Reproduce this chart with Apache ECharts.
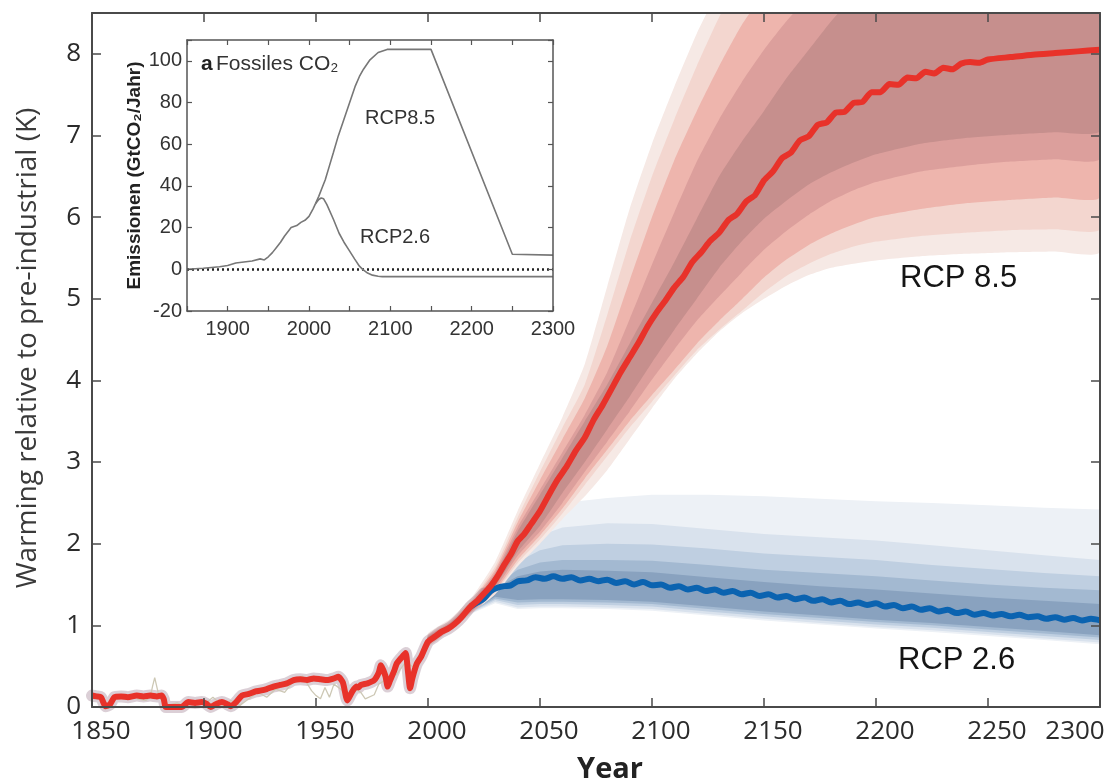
<!DOCTYPE html>
<html><head><meta charset="utf-8">
<script src="https://cdn.jsdelivr.net/npm/echarts@6/dist/echarts.min.js"></script>
<style>html,body{margin:0;padding:0;background:#fff}#c{width:1113px;height:780px}</style>
</head><body><div id="c"></div>
<script>
// ---------- main chart: central temperature lines ----------
const redYears = [1850,1852,1854,1855,1856,1858,1860,1863,1866,1870,1873,1876,1879,1881,1882,1883,1886,1890,1893,1896,1899,1901,1903,1905,1908,1910,1912,1914,1917,1920,1923,1925,1928,1931,1934,1937,1940,1943,1946,1949,1952,1955,1958,1960,1962,1964,1966,1968,1969,1970,1973,1976,1978,1979,1981,1982,1983,1985,1986,1988,1990,1991,1992,1993,1995,1997,2000,
 2003,2006,2009,2012,2015,2019,2022,2025,2028,2031,2034,2037,2040,2043,2046,2050,2054,2058,2062,2066,2070,2074,2078,2082,2086,2090,2094,2098,2102,2106,2110,2114,2118,2122,2126,2130,2134,2138,2142,2146,2150,2154,2158,2162,2166,2170,2174,2178,2182,2186,2190,2194,2198,2202,2206,2210,2214,2218,2222,2226,2230,2234,2238,2242,2246,2250,2260,2270,2280,2290,2300];
const redVals = [0.14,0.13,0.12,0.06,0.01,0.03,0.12,0.13,0.12,0.14,0.13,0.14,0.13,0.14,0.10,0.0,0.0,0.0,0.06,0.05,0.06,0.04,0.0,0.03,0.06,0.04,0.01,0.05,0.14,0.16,0.19,0.2,0.22,0.25,0.27,0.29,0.33,0.34,0.33,0.35,0.34,0.33,0.35,0.37,0.30,0.08,0.18,0.25,0.24,0.27,0.29,0.33,0.42,0.51,0.38,0.25,0.32,0.45,0.53,0.6,0.66,0.45,0.23,0.35,0.53,0.62,0.80,
 0.86,0.92,0.96,1.02,1.10,1.23,1.30,1.39,1.48,1.60,1.74,1.87,2.03,2.12,2.24,2.40,2.60,2.79,2.95,3.14,3.30,3.52,3.70,3.90,4.10,4.28,4.46,4.66,4.83,4.98,5.14,5.27,5.45,5.57,5.71,5.81,5.96,6.04,6.19,6.27,6.45,6.56,6.72,6.79,6.94,6.99,7.13,7.16,7.28,7.29,7.40,7.41,7.53,7.53,7.63,7.62,7.71,7.70,7.78,7.76,7.83,7.81,7.88,7.90,7.89,7.93,7.96,7.99,8.01,8.03,8.05];

const blueYears = [2019,2022,2025,2028,2031,2034,2037,2040,2044,2048,2052,2056,2060,2064,2068,2072,2076,2080,2084,2088,2092,2096,2100,2104,2108,2112,2116,2120,2124,2128,2132,2136,2140,2144,2148,2152,2156,2160,2164,2168,2172,2176,2180,2184,2188,2192,2196,2200,2204,2208,2212,2216,2220,2224,2228,2232,2236,2240,2244,2248,2252,2256,2260,2264,2268,2272,2276,2280,2284,2288,2292,2296,2300];
const blueVals = [1.23,1.28,1.33,1.42,1.46,1.48,1.49,1.54,1.55,1.59,1.57,1.60,1.57,1.59,1.55,1.57,1.54,1.56,1.52,1.54,1.50,1.53,1.49,1.50,1.46,1.48,1.44,1.46,1.42,1.44,1.40,1.42,1.38,1.40,1.36,1.38,1.34,1.36,1.32,1.34,1.30,1.32,1.28,1.30,1.26,1.28,1.25,1.27,1.23,1.25,1.21,1.23,1.19,1.21,1.17,1.19,1.15,1.17,1.13,1.15,1.12,1.14,1.11,1.13,1.10,1.11,1.08,1.10,1.07,1.09,1.06,1.08,1.06];

// observed temperature (faint grey line)
const obsYears = [1870,1874,1876,1877,1878,1880,1884,1888,1892,1896,1900,1904,1908,1912,1916,1920,1924,1928,1932,1936,1940,1944,1948,1950,1952,1954,1956,1958,1962,1964,1966,1970,1972,1976,1978,1982,1986,1990,1994,1998,2002];
const obsVals = [0.10,0.08,0.12,0.25,0.36,0.12,0.02,0.05,0.0,0.08,0.03,0.12,0.02,0.08,0.02,0.10,0.18,0.12,0.22,0.18,0.32,0.38,0.20,0.14,0.10,0.24,0.12,0.28,0.20,0.10,0.24,0.18,0.10,0.15,0.28,0.35,0.40,0.55,0.48,0.75,0.82];

// ---------- RCP8.5 uncertainty bands (outer -> inner) ----------
const rbYears = [2000,2010,2020,2030,2040,2050,2060,2070,2080,2090,2100,2110,2120,2130,2140,2150,2160,2170,2180,2190,2200,2220,2240,2260,2280,2300];
const r1Up = [0.90,1.08,1.36,1.78,2.40,2.98,3.55,4.20,5.15,6.10,6.90,7.60,8.25,8.80,9.25,9.60,9.90,10.1,10.3,10.5,10.6,10.8,11.0,11.1,11.2,11.3];
const r1Lo = [0.74,0.94,1.16,1.38,1.72,2.00,2.30,2.58,2.90,3.28,3.66,4.02,4.33,4.60,4.82,5.00,5.16,5.29,5.38,5.43,5.47,5.52,5.55,5.57,5.58,5.58];
const r2Up = [0.88,1.06,1.33,1.72,2.32,2.88,3.42,3.95,4.80,5.70,6.50,7.20,7.85,8.45,8.95,9.30,9.60,9.80,10.0,10.2,10.3,10.5,10.7,10.8,10.9,11.0];
const r2Lo = [0.75,0.95,1.17,1.40,1.76,2.05,2.37,2.72,3.07,3.42,3.74,4.06,4.37,4.62,4.85,5.08,5.28,5.43,5.55,5.64,5.70,5.77,5.81,5.84,5.85,5.86];
const r3Up = [0.87,1.04,1.31,1.68,2.26,2.78,3.28,3.78,4.42,5.22,6.00,6.70,7.30,7.85,8.35,8.75,9.10,9.35,9.60,9.80,10.0,10.3,10.5,10.6,10.7,10.8];
const r3Lo = [0.76,0.96,1.18,1.42,1.80,2.10,2.43,2.80,3.15,3.50,3.82,4.13,4.45,4.73,4.99,5.26,5.48,5.66,5.80,5.91,6.00,6.10,6.17,6.21,6.24,6.25];
const r4Up = [0.86,1.03,1.29,1.65,2.20,2.66,3.12,3.58,4.10,4.75,5.42,6.06,6.68,7.20,7.65,8.05,8.40,8.70,9.00,9.25,9.50,9.90,10.2,10.4,10.5,10.6];
const r4Lo = [0.77,0.97,1.20,1.45,1.85,2.15,2.50,2.88,3.25,3.62,4.01,4.38,4.73,5.03,5.32,5.60,5.83,6.03,6.20,6.33,6.43,6.56,6.63,6.68,6.71,6.72];
const r5Up = [0.85,1.02,1.28,1.62,2.15,2.60,3.05,3.50,3.95,4.45,4.95,5.45,5.98,6.50,6.92,7.30,7.70,8.05,8.40,8.70,8.95,9.40,9.70,9.90,10.0,10.1];
const r5Lo = [0.78,0.98,1.22,1.48,1.90,2.22,2.62,3.00,3.40,3.80,4.22,4.62,5.00,5.38,5.70,5.98,6.20,6.40,6.55,6.67,6.77,6.90,6.97,7.01,7.04,7.06];

// ---------- RCP2.6 uncertainty bands (outer -> inner) ----------
const bbYears = [2010,2020,2030,2040,2050,2060,2080,2100,2125,2150,2175,2200,2225,2250,2275,2300];
const b1Up = [1.05,1.30,1.60,2.10,2.40,2.50,2.56,2.60,2.60,2.58,2.55,2.52,2.50,2.47,2.44,2.42];
const b1Lo = [0.95,1.15,1.27,1.20,1.21,1.21,1.20,1.18,1.12,1.06,1.01,0.96,0.92,0.87,0.82,0.77];
const b2Up = [1.03,1.28,1.55,1.90,2.10,2.20,2.25,2.24,2.18,2.12,2.08,2.04,1.98,1.92,1.86,1.80];
const b2Lo = [0.96,1.16,1.29,1.22,1.23,1.23,1.22,1.20,1.14,1.08,1.03,0.98,0.94,0.89,0.84,0.79];
const b3Up = [1.02,1.26,1.52,1.78,1.92,1.98,2.00,1.99,1.94,1.88,1.84,1.80,1.74,1.69,1.64,1.60];
const b3Lo = [0.97,1.17,1.31,1.25,1.26,1.26,1.25,1.23,1.17,1.11,1.06,1.01,0.97,0.92,0.87,0.82];
const b4Up = [1.01,1.24,1.48,1.68,1.77,1.80,1.80,1.79,1.74,1.68,1.64,1.60,1.55,1.50,1.46,1.43];
const b4Lo = [0.98,1.18,1.33,1.28,1.29,1.29,1.28,1.26,1.20,1.14,1.09,1.04,1.00,0.95,0.90,0.85];
const b5Up = [1.00,1.23,1.45,1.60,1.66,1.68,1.67,1.65,1.59,1.53,1.48,1.44,1.39,1.34,1.30,1.26];
const b5Lo = [0.99,1.19,1.35,1.31,1.32,1.32,1.31,1.29,1.23,1.17,1.12,1.07,1.03,0.98,0.93,0.88];

// ---------- inset: fossil CO2 emissions ----------
const insHistYears = [1850,1870,1890,1900,1910,1920,1930,1940,1945,1950,1955,1960,1965,1970,1975,1978,1980,1985,1990,1995,2000,2005,2008];
const insHist = [0,0.5,1.2,1.8,3.0,3.5,4.0,5.0,4.5,6.0,8.0,10.5,13.0,16.0,18.5,20.0,19.5,21.0,22.5,23.5,25.4,29.0,31.5];
const ins85Years = [2008,2012,2016,2020,2025,2030,2036,2043,2050,2057,2062,2067,2075,2085,2096,2150,2250,2300];
const ins85 = [31.5,35,39,43,49.5,56,64,72,80,88,92.5,96,100.5,104,105.5,105.5,7.2,6.8];
const ins26Years = [2008,2012,2015,2018,2022,2030,2037,2043,2049,2056,2062,2066,2072,2078,2085,2090,2300];
const ins26 = [31.5,33.5,34.2,33.8,31,24,17.3,13,9.3,5,1.5,0,-1.8,-2.8,-3.3,-3.5,-3.5];

// tick values
const mainXTicks = [1850,1900,1950,2000,2050,2100,2150,2200,2250,2300];

// ---------- build ----------
const pairs = (xs, ys) => xs.map((x, i) => [x, ys[i]]);
const redBandList = [[r1Up,r1Lo],[r2Up,r2Lo],[r3Up,r3Lo],[r4Up,r4Lo],[r5Up,r5Lo]];
const blueBandList = [[b1Up,b1Lo],[b2Up,b2Lo],[b3Up,b3Lo],[b4Up,b4Lo],[b5Up,b5Lo]];
const redBandColors = ['#f6e9e5','#f3d6cf','#eeb5ad','#dc9f9c','#c68f8d'];
const blueBandColors = ['#edf1f6','#d9e2ed','#bfcfe1','#a3b9d1','#89a2bf'];

function bandSeries(name, years, list, colors, z, smooth) {
  return {
    type: 'custom', name, coordinateSystem: 'cartesian2d', xAxisIndex: 0, yAxisIndex: 0,
    z, silent: true, clip: true,
    data: list.map((_, i) => [years[0], i]),
    renderItem(params, api) {
      const i = params.dataIndex;
      const up = list[i][0], lo = list[i][1];
      const pts = [];
      for (let k = 0; k < years.length; k++) pts.push(api.coord([years[k], up[k]]));
      for (let k = years.length - 1; k >= 0; k--) pts.push(api.coord([years[k], lo[k]]));
      return { type: 'polygon', z2: i, shape: { points: pts, smooth: smooth }, style: { fill: colors[i] } };
    }
  };
}

const frame = '#4a4a4a';
const labFont = 'Open Sans';
function mainX(pos, showLabel) {
  return {
    gridIndex: 0, type: 'value', position: pos, min: 1850, max: 2300, interval: 50, z: 10,
    axisLine: { show: true, onZero: false, lineStyle: { color: frame, width: 2 } },
    axisTick: { show: true, inside: true, length: 9, lineStyle: { color: frame, width: 1.5 } },
    splitLine: { show: false },
    axisLabel: {
      show: showLabel, margin: 12,
      formatter: v => mainXTicks.indexOf(v) < 0 ? '' : (v === 2300 ? '{e|' + v + '}' : '{n|' + v + '}'),
      rich: {
        n: { fontFamily: labFont, fontSize: 26, color: '#2b2b2b', padding: [0, 0, 0, 18] },
        e: { fontFamily: labFont, fontSize: 26, color: '#2b2b2b', padding: [0, 50, 0, 0] }
      }
    }
  };
}
function mainY(pos, showLabel) {
  const a = {
    gridIndex: 0, type: 'value', position: pos, min: 0, max: 8.5, interval: 1, z: 10,
    axisLine: { show: true, onZero: false, lineStyle: { color: frame, width: 2 } },
    axisTick: { show: true, inside: true, length: 9, lineStyle: { color: frame, width: 1.5 } },
    splitLine: { show: false },
    axisLabel: { show: showLabel, margin: 11, fontFamily: labFont, fontSize: 26, color: '#2b2b2b',
      formatter: v => Number.isInteger(v) ? String(v) : '' }
  };
  if (showLabel) {
    a.name = 'Warming relative to pre-industrial (K)';
    a.nameLocation = 'middle'; a.nameGap = 50; a.nameRotate = 90;
    a.nameTextStyle = { fontFamily: labFont, fontSize: 28, color: '#3a3a3a', padding: [0, 0, 0, 24] };
  }
  return a;
}
const insFrame = '#555';
function insX(pos, showLabel) {
  return {
    gridIndex: 1, type: 'value', position: pos, min: 1850, max: 2300, interval: 50, z: 10,
    axisLine: { show: true, onZero: false, lineStyle: { color: insFrame, width: 1.5 } },
    axisTick: { show: true, inside: true, length: 5, lineStyle: { color: insFrame, width: 1.2 } },
    splitLine: { show: false },
    axisLabel: { show: showLabel, margin: 8, fontFamily: 'Liberation Sans', fontSize: 20, color: '#333',
      formatter: v => v % 100 === 0 ? String(v) : '' }
  };
}
function insY(pos, showLabel) {
  const a = {
    gridIndex: 1, type: 'value', position: pos, min: -20, max: 110, interval: 20, z: 10,
    axisLine: { show: true, onZero: false, lineStyle: { color: insFrame, width: 1.5 } },
    axisTick: { show: true, inside: true, length: 5, lineStyle: { color: insFrame, width: 1.2 } },
    splitLine: { show: false },
    axisLabel: { show: showLabel, margin: 5, fontFamily: 'Liberation Sans', fontSize: 20, color: '#333',
      formatter: v => v > 100 ? '' : String(v) }
  };
  if (showLabel) {
    a.name = 'Emissionen (GtCO₂/Jahr)';
    a.nameLocation = 'middle'; a.nameGap = 43; a.nameRotate = 90;
    a.nameTextStyle = { fontFamily: 'Liberation Sans', fontSize: 19, fontWeight: 'bold', color: '#222' };
  }
  return a;
}

const histShadow = pairs(redYears, redVals).filter(p => p[0] <= 2025);

const option = {
  animation: false,
  backgroundColor: '#fff',
  grid: [
    { left: 92, right: 13, top: 13, bottom: 73, containLabel: false },
    { left: 187, top: 40, width: 366, height: 271, show: true, backgroundColor: '#fff', borderWidth: 0 }
  ],
  xAxis: [mainX('bottom', true), mainX('top', false), insX('bottom', true), insX('top', false)],
  yAxis: [mainY('left', true), mainY('right', false), insY('left', true), insY('right', false)],
  series: [
    bandSeries('RCP2.6 range', bbYears, blueBandList, blueBandColors, 2, 0),
    bandSeries('RCP8.5 range', rbYears, redBandList, redBandColors, 3, 0.18),
    { type: 'line', name: 'hist range', xAxisIndex: 0, yAxisIndex: 0, z: 4, silent: true,
      data: histShadow, showSymbol: false, smooth: 0.2,
      lineStyle: { color: 'rgba(135,95,120,0.30)', width: 12, cap: 'round', join: 'round' } },
    { type: 'line', name: 'observed', xAxisIndex: 0, yAxisIndex: 0, z: 5, silent: true,
      data: pairs(obsYears, obsVals), showSymbol: false,
      lineStyle: { color: '#cdc8b5', width: 1.3 } },
    { type: 'line', name: 'RCP 2.6', xAxisIndex: 0, yAxisIndex: 0, z: 6, silent: true,
      data: pairs(blueYears, blueVals), showSymbol: false, smooth: 0.3,
      lineStyle: { color: '#0b63b0', width: 6, join: 'round' } },
    { type: 'line', name: 'RCP 8.5', xAxisIndex: 0, yAxisIndex: 0, z: 7, silent: true,
      data: pairs(redYears, redVals), showSymbol: false, smooth: 0.2,
      lineStyle: { color: '#e8322a', width: 6, join: 'round' } },
    // inset
    { type: 'line', name: 'inset hist', xAxisIndex: 2, yAxisIndex: 2, z: 6, silent: true,
      data: pairs(insHistYears, insHist), showSymbol: false,
      lineStyle: { color: '#777', width: 1.6 },
      markLine: { silent: true, symbol: 'none', label: { show: false },
        lineStyle: { color: '#222', type: [2, 3], width: 2.5 }, data: [{ yAxis: 0 }] } },
    { type: 'line', name: 'inset RCP8.5', xAxisIndex: 2, yAxisIndex: 2, z: 6, silent: true,
      data: pairs(ins85Years, ins85), showSymbol: false,
      lineStyle: { color: '#777', width: 1.6 } },
    { type: 'line', name: 'inset RCP2.6', xAxisIndex: 2, yAxisIndex: 2, z: 6, silent: true,
      data: pairs(ins26Years, ins26), showSymbol: false,
      lineStyle: { color: '#777', width: 1.6 } }
  ],
  graphic: [
    { type: 'text', z: 100, x: 900, y: 278, style: { text: 'RCP 8.5', fontFamily: 'Liberation Sans', fontSize: 31, fill: '#151515', verticalAlign: 'middle' } },
    { type: 'text', z: 100, x: 898, y: 660, style: { text: 'RCP 2.6', fontFamily: 'Liberation Sans', fontSize: 31, fill: '#151515', verticalAlign: 'middle' } },
    { type: 'text', z: 100, x: 610, y: 770, style: { text: 'Year', fontFamily: labFont, fontWeight: 'bold', fontSize: 29, fill: '#222', align: 'center', verticalAlign: 'middle' } },
    { type: 'text', z: 100, x: 201, y: 64, style: { text: '{a|a} {f|Fossiles CO₂}', verticalAlign: 'middle',
        rich: { a: { fontFamily: 'Liberation Sans', fontWeight: 'bold', fontSize: 21, fill: '#222' },
                f: { fontFamily: 'Liberation Sans', fontSize: 21, fill: '#333' } } } },
    { type: 'text', z: 100, x: 365, y: 118, style: { text: 'RCP8.5', fontFamily: 'Liberation Sans', fontSize: 20, fill: '#333', verticalAlign: 'middle' } },
    { type: 'text', z: 100, x: 360, y: 237, style: { text: 'RCP2.6', fontFamily: 'Liberation Sans', fontSize: 20, fill: '#333', verticalAlign: 'middle' } }
  ]
};
const chart = echarts.init(document.getElementById('c'), null, { renderer: 'canvas' });
chart.setOption(option);
</script>
</body></html>
